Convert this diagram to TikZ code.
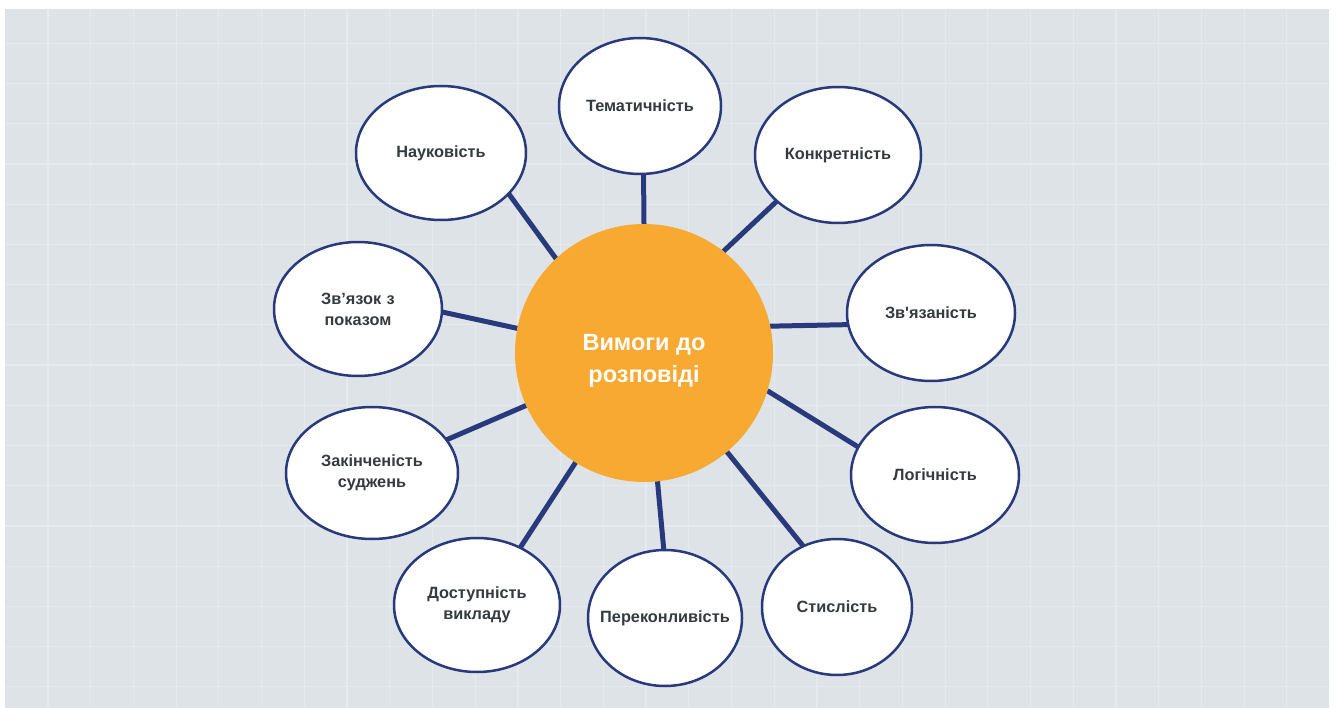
\documentclass[tikz,border=0pt]{standalone}
\usepackage{fontspec}
\setmainfont{Liberation Sans}[Ligatures=TeXOff]
\usetikzlibrary{shapes.geometric}
\definecolor{bgc}{HTML}{DDE3E7}
\definecolor{gridc}{HTML}{E6EAED}
\definecolor{navy}{HTML}{283A7C}
\definecolor{orng}{HTML}{F8A932}
\definecolor{txt}{HTML}{353A3D}
\pgfdeclarelayer{back}
\pgfdeclarelayer{mid}
\pgfsetlayers{back,mid,main}
\begin{document}
\begin{tikzpicture}[x=1pt,y=-1pt,
  sat/.style={ellipse, draw=navy, line width=2.5pt, fill=white, inner sep=0pt, outer sep=0pt,
    font=\bfseries\fontsize{16.3}{21}\selectfont, text=txt, align=center},
  hub/.style={circle, fill=orng, minimum size=258pt, inner sep=0pt, outer sep=0pt},
  hubtext/.style={font=\bfseries\fontsize{23.5}{32}\selectfont, text=white, align=center, inner sep=0pt},
  link/.style={draw=navy, line width=5pt}]
\useasboundingbox (0,0) rectangle (1336,708);
\begin{pgfonlayer}{back}
\fill[white] (0,0) rectangle (1336,708);
\fill[bgc] (5,9) rectangle (1329,708);
\begin{scope}
\clip (5,9) rectangle (1329,708);
\foreach \i in {0,...,30} { \draw[gridc, line width=1.2pt] ({48+42.72*\i},9) -- ({48+42.72*\i},708); }
\foreach \j in {0,...,16} { \draw[gridc, line width=1.2pt] (5,{43.5+40.2*\j}) -- (1329,{43.5+40.2*\j}); }
\end{scope}
\end{pgfonlayer}

\node[hub] (hub) at (644,353) {};
\node[hubtext] (hubt) at (644,361) {Вимоги до\\розповіді};

\node[sat, minimum width=170pt, minimum height=134pt] (nauk) at (441,153) {\makebox[0pt]{Науковість}};
\node[sat, minimum width=162pt, minimum height=136pt] (tema) at (640,106) {\makebox[0pt]{Тематичність}};
\node[sat, minimum width=166pt, minimum height=136pt] (konk) at (838,155) {\makebox[0pt]{Конкретність}};
\node[sat, minimum width=168pt, minimum height=136pt] (zvya) at (931,313) {\makebox[0pt]{Зв'язаність}};
\node[sat, minimum width=168pt, minimum height=136pt] (logi) at (935,475) {\makebox[0pt]{Логічність}};
\node[sat, minimum width=150pt, minimum height=136pt] (stys) at (837,607) {\makebox[0pt]{Стислість}};
\node[sat, minimum width=154pt, minimum height=136pt] (pere) at (665,618) {\makebox[0pt]{Переконливість}};
\node[sat, minimum width=166pt, minimum height=134pt, text width=0pt] (dost) at (477,605) {\makebox[0pt]{Доступність}\\\makebox[0pt]{викладу}};
\node[sat, minimum width=172pt, minimum height=132pt, text width=0pt] (zaki) at (372,473) {\makebox[0pt]{Закінченість}\\\makebox[0pt]{суджень}};
\node[sat, minimum width=168pt, minimum height=134pt, text width=0pt] (zvpo) at (358,309) {\makebox[0pt]{Зв’язок з}\\\makebox[0pt]{показом}};

\begin{pgfonlayer}{mid}
\draw[link] (hub.133.7) -- (nauk.-31.9);
\draw[link] (hub.90.4) -- (tema.-87.5);
\draw[link] (hub.52.9) -- (konk.217.3);
\draw[link] (hub.12.6) -- (zvya.188.1);
\draw[link] (hub.-17.7) -- (logi.160.7);
\draw[link] (hub.-50.4) -- (stys.119.4);
\draw[link] (hub.-84.6) -- (pere.91.7);
\draw[link] (hub.238.7) -- (dost.53.1);
\draw[link] (hub.204) -- (zaki.24.7);
\draw[link] (hub.169.7) -- (zvpo.-2);
\end{pgfonlayer}
\end{tikzpicture}
\end{document}
